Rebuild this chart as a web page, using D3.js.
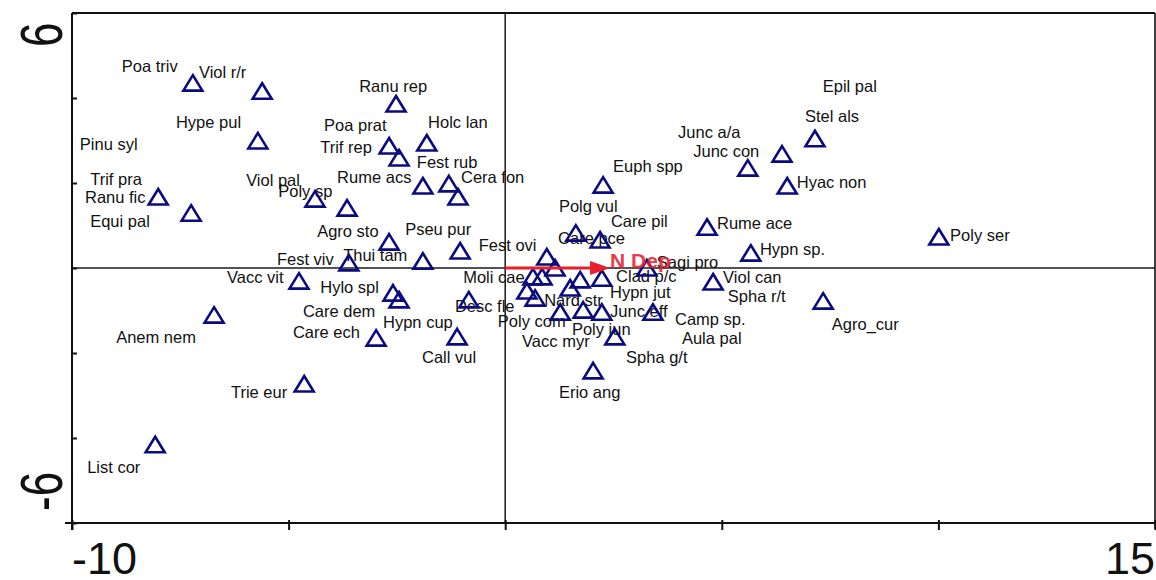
<!DOCTYPE html>
<html><head><meta charset="utf-8">
<script src="https://cdn.jsdelivr.net/npm/d3@7"></script>
<style>body{margin:0;background:#fff}svg{display:block}</style></head>
<body><svg id="c" width="1156" height="580"></svg>
<script>
// ---- data ----
const xTicks = [-10, -5, 0, 5, 10, 15];
const yTicks = [-6, -4, -2, 0, 2, 4, 6];
const xTickLabels = [[-10, "-10"], [15, "15"]];
const yTickLabels = [[6, "6"], [-6, "-6"]];

const speciesNames = ["Poa triv","Viol r/r","Ranu rep","Hype pul","Poa prat","Trif rep","Holc lan","Ranu fic","Equi pal","Poly sp",
 "Viol pal","Rume acs","Cera fon","Fest rub","Agro sto","Pseu pur","Fest viv","Thui tam","Vacc vit","Hylo spl",
 "Care dem","Desc fle","Anem nem","Care ech","Call vul","Trie eur","List cor","Euph spp","Polg vul","Care pce",
 "Fest ovi","Care pil","Moli cae","Hypn cup","Poly com","Vacc myr","Nard str","Hypn jut","Clad p/c","",
 "","Spha g/t","Sagi pro","Junc eff","Poly jun","Erio ang","Rume ace","Hypn sp.","Viol can","Junc a/a",
 "Junc con","Stel als","Hyac non","Poly ser","Agro_cur","Pinu syl","Trif pra","Camp sp.","Aula pal","Spha r/t",
 "Epil pal"];
const speciesX = [-7.21,-5.61,-2.52,-5.71,-2.68,-2.45,-1.81,-8.01,-7.25,-4.39,
 -3.65,-1.90,-1.30,-1.09,-2.68,-1.04,-3.61,-1.90,-4.76,-2.59,
 -2.45,-0.84,-6.72,-2.98,-1.11,-4.64,-8.08,2.26,1.63,2.19,
 0.96,1.15,0.64,0.85,0.50,0.69,1.50,1.73,2.23,1.27,
 1.80,2.23,3.27,3.41,2.53,2.03,4.66,5.67,4.80,5.60,
 6.39,7.15,6.51,10.01,7.34,null,null,null,null,null,
 null];
const speciesY = [4.35,4.16,3.86,2.99,2.87,2.59,2.94,1.67,1.29,1.62,
 1.41,1.93,1.98,1.67,0.61,0.40,0.12,0.16,-0.31,-0.59,
 -0.75,-0.75,-1.11,-1.65,-1.62,-2.73,-4.16,1.95,0.82,0.66,
 0.26,0.00,-0.21,-0.21,-0.54,-0.71,-0.47,-0.28,-0.24,-1.04,
 -0.99,-1.04,0.00,-1.04,-1.62,-2.42,0.96,0.35,-0.33,2.35,
 2.68,3.04,1.93,0.73,-0.78,null,null,null,null,null,
 null];
const labelX = [-8.85,-7.07,-3.37,-7.60,-4.18,-4.27,-1.78,-9.70,-9.58,-5.24,
 -5.98,-3.88,-1.02,-2.04,-4.34,-2.31,-5.27,-3.74,-6.42,-4.27,
 -4.67,-1.16,-8.98,-4.90,-1.92,-6.33,-9.65,2.49,1.24,1.22,
 -0.61,2.44,-0.97,-2.82,-0.17,0.39,0.90,2.42,2.56,null,
 null,2.79,3.50,2.42,1.54,1.24,4.89,5.88,5.03,3.99,
 4.34,6.92,6.73,10.27,7.54,-9.82,-9.58,3.92,4.08,5.14,
 7.33];
const labelY = [4.61,4.47,4.14,3.29,3.22,2.71,3.29,1.53,0.96,1.67,
 1.93,2.00,2.00,2.35,0.73,0.78,0.07,0.16,-0.35,-0.59,
 -1.15,-1.04,-1.76,-1.65,-2.24,-3.06,-4.82,2.26,1.32,0.56,
 0.40,0.96,-0.35,-1.41,-1.39,-1.86,-0.89,-0.71,-0.33,null,
 null,-2.24,0.00,-1.15,-1.58,-3.06,0.92,0.31,-0.35,3.06,
 2.61,3.44,1.88,0.64,-1.46,2.78,1.95,-1.34,-1.79,-0.80,
 4.14];

const envName = "N Dep";
const envX = [0, 2.42];
const envY = [0, 0];

// ---- chart ----
const svg = d3.select("#c");
const L = 72, R = 1155, T = 13, B = 523;
const x = d3.scaleLinear().domain([-10, 15]).range([L, R]);
const y = d3.scaleLinear().domain([-6, 6]).range([B, T]);
const ink = "#111";

// zero lines
svg.append("line").attr("x1", L).attr("x2", R).attr("y1", y(0)).attr("y2", y(0))
  .attr("stroke", "#1a1a1a").attr("stroke-width", 1.5);
svg.append("line").attr("x1", x(0)).attr("x2", x(0)).attr("y1", T).attr("y2", B)
  .attr("stroke", "#1a1a1a").attr("stroke-width", 1.5);

// frame top / right
svg.append("line").attr("x1", L).attr("x2", R).attr("y1", T).attr("y2", T).attr("stroke", ink).attr("stroke-width", 2);
svg.append("line").attr("x1", R).attr("x2", R).attr("y1", T).attr("y2", B + 6).attr("stroke", ink).attr("stroke-width", 1.6);

// axes
const gx = svg.append("g").attr("transform", `translate(0,${B})`)
  .call(d3.axisBottom(x).tickValues(xTicks).tickFormat("").tickSizeOuter(0).tickSize(7));
gx.select(".domain").attr("stroke", ink).attr("stroke-width", 2).attr("d", `M${L-7},0H${R}`);
gx.selectAll(".tick line").attr("y1", -3).attr("stroke", ink).attr("stroke-width", 2);

const gy = svg.append("g").attr("transform", `translate(${L},0)`)
  .call(d3.axisLeft(y).tickValues(yTicks).tickFormat("").tickSizeOuter(0).tickSize(7));
gy.select(".domain").attr("stroke", ink).attr("stroke-width", 2).attr("d", `M0,${T}V${B+7}`);
gy.selectAll(".tick line").attr("x2", 5).attr("stroke", ink).attr("stroke-width", 2);

// tick labels
svg.selectAll(".xtl").data(xTickLabels).enter().append("text")
  .attr("x", d => x(d[0])).attr("y", 574)
  .attr("text-anchor", d => d[0] === -10 ? "start" : "end")
  .attr("font-family", "Liberation Sans, Arial, sans-serif").attr("font-size", 45)
  .attr("fill", ink).text(d => d[1]);
svg.selectAll(".ytl").data(yTickLabels).enter().append("text")
  .attr("transform", d => `translate(62,${d[0] > 0 ? 47 : 511}) rotate(-90) scale(1,1.35)`)
  .attr("text-anchor", "start")
  .attr("font-family", "Liberation Sans, Arial, sans-serif").attr("font-size", 44)
  .attr("fill", ink).text(d => d[1]);

// species
const species = speciesNames.map((n, i) => ({n, x: speciesX[i], y: speciesY[i], lx: labelX[i], ly: labelY[i]}));
svg.append("g").selectAll("text").data(species.filter(d => d.lx !== null && d.n)).enter().append("text")
  .attr("x", d => x(d.lx)).attr("y", d => y(d.ly))
  .attr("font-family", "Liberation Sans, Arial, sans-serif").attr("font-size", 16.5)
  .attr("fill", ink).text(d => d.n);

const tri = "M0,-8L9.5,7.5L-9.5,7.5Z";
svg.append("g").selectAll("path").data(species.filter(d => d.x !== null)).enter().append("path")
  .attr("d", tri).attr("transform", d => `translate(${x(d.x)},${y(d.y)})`)
  .attr("fill", "none").attr("stroke", "#0b0b80").attr("stroke-width", 2.6).attr("stroke-linejoin", "miter");

// environmental arrow
const red = "#e8202c";
const ax0 = x(envX[0]), ax1 = x(envX[1]), ay = y(envY[1]);
svg.append("line").attr("x1", ax0).attr("x2", ax1 - 18).attr("y1", y(envY[0])).attr("y2", ay)
  .attr("stroke", red).attr("stroke-width", 3);
svg.append("path").attr("d", `M${ax1},${ay}L${ax1-20},${ay-7}L${ax1-20},${ay+7}Z`).attr("fill", red);
svg.append("text").attr("x", ax1).attr("y", ay).attr("font-family", "Liberation Sans, Arial, sans-serif")
  .attr("font-size", 21).attr("font-weight", "bold").attr("fill", red).attr("fill-opacity", 0.9).text(envName);
</script></body></html>
